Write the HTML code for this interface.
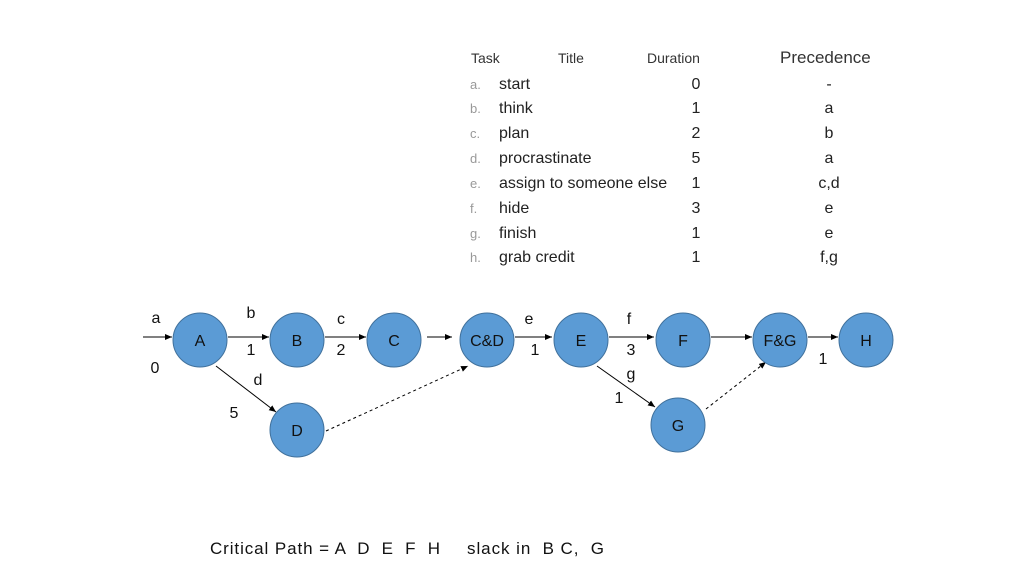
<!DOCTYPE html>
<html><head><style>
body{margin:0;background:#fff;}
svg{display:block;font-family:"Liberation Sans",Arial,sans-serif;}
text{white-space:pre;}
</style></head><body>
<svg width="1024" height="576" viewBox="0 0 1024 576">
<defs><marker id="ar" markerWidth="8" markerHeight="8" refX="7" refY="3" orient="auto" markerUnits="userSpaceOnUse"><path d="M0,0 L7,3 L0,6z" fill="#000"/></marker></defs>
<g font-size="14" fill="#333">
<text x="471" y="63">Task</text><text x="558" y="63">Title</text><text x="647" y="63">Duration</text>
<text x="780" y="63" font-size="17">Precedence</text>
</g>
<g font-size="16" fill="#222">
<text x="499" y="89">start</text><text x="499" y="113">think</text><text x="499" y="138">plan</text><text x="499" y="163">procrastinate</text><text x="499" y="188">assign to someone else</text><text x="499" y="213">hide</text><text x="499" y="238">finish</text><text x="499" y="262">grab credit</text>
<g text-anchor="middle"><text x="696" y="89">0</text><text x="696" y="113">1</text><text x="696" y="138">2</text><text x="696" y="163">5</text><text x="696" y="188">1</text><text x="696" y="213">3</text><text x="696" y="238">1</text><text x="696" y="262">1</text>
<text x="829" y="89">-</text><text x="829" y="113">a</text><text x="829" y="138">b</text><text x="829" y="163">a</text><text x="829" y="188">c,d</text><text x="829" y="213">e</text><text x="829" y="238">e</text><text x="829" y="262">f,g</text></g>
</g>
<g font-size="13" fill="#999"><text x="470" y="89">a.</text><text x="470" y="113">b.</text><text x="470" y="138">c.</text><text x="470" y="163">d.</text><text x="470" y="188">e.</text><text x="470" y="213">f.</text><text x="470" y="238">g.</text><text x="470" y="262">h.</text></g>
<g stroke="#000" stroke-width="1" marker-end="url(#ar)">
<line x1="143" y1="337" x2="172" y2="337"/>
<line x1="228" y1="337" x2="269" y2="337"/>
<line x1="325" y1="337" x2="366" y2="337"/>
<line x1="427" y1="337" x2="452" y2="337"/>
<line x1="515" y1="337" x2="552" y2="337"/>
<line x1="609" y1="337" x2="654" y2="337"/>
<line x1="711" y1="337" x2="752" y2="337"/>
<line x1="808" y1="337" x2="838" y2="337"/>
<line x1="216" y1="366" x2="276" y2="412"/>
<line x1="597" y1="366" x2="655" y2="407"/>
<line x1="326" y1="431" x2="468" y2="366" stroke-dasharray="3,3"/>
<line x1="706" y1="409" x2="766" y2="362" stroke-dasharray="3,3"/>
</g>
<g fill="#5b9bd5" stroke="#41719c" stroke-width="1">
<circle cx="200" cy="340" r="27"/><circle cx="297" cy="340" r="27"/><circle cx="394" cy="340" r="27"/><circle cx="487" cy="340" r="27"/><circle cx="581" cy="340" r="27"/><circle cx="683" cy="340" r="27"/><circle cx="780" cy="340" r="27"/><circle cx="866" cy="340" r="27"/><circle cx="297" cy="430" r="27"/><circle cx="678" cy="425" r="27"/>
</g>
<g font-size="16" fill="#111" text-anchor="middle">
<text x="200" y="346">A</text><text x="297" y="346">B</text><text x="394" y="346">C</text><text x="487" y="346">C&amp;D</text><text x="581" y="346">E</text><text x="683" y="346">F</text><text x="780" y="346">F&amp;G</text><text x="866" y="346">H</text><text x="297" y="436">D</text><text x="678" y="431">G</text>
<text x="156" y="323">a</text><text x="155" y="373">0</text>
<text x="251" y="318">b</text><text x="251" y="355">1</text>
<text x="341" y="324">c</text><text x="341" y="355">2</text>
<text x="258" y="385">d</text><text x="234" y="418">5</text>
<text x="529" y="324">e</text><text x="535" y="355">1</text>
<text x="629" y="324">f</text><text x="631" y="355">3</text>
<text x="631" y="379">g</text><text x="619" y="403">1</text>
<text x="823" y="364">1</text>
</g>
<text x="210" y="554" font-size="17" fill="#111" textLength="230" lengthAdjust="spacing">Critical Path = A  D  E  F  H</text>
<text x="467" y="554" font-size="17" fill="#111" textLength="137" lengthAdjust="spacing">slack in  B C,  G</text>
</svg>
</body></html>
